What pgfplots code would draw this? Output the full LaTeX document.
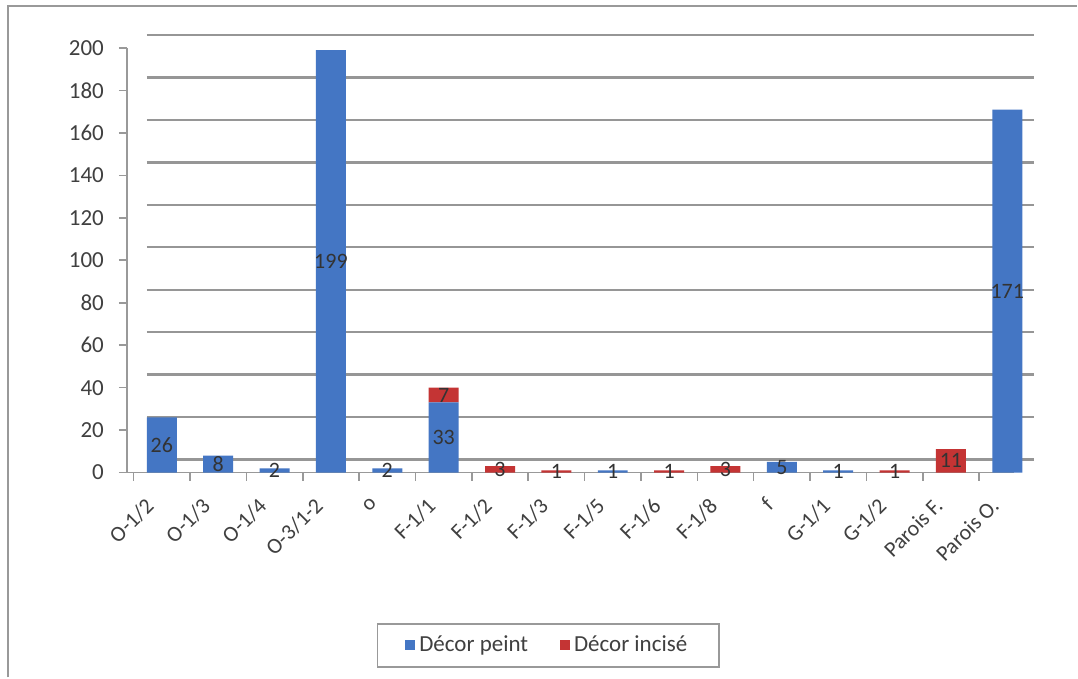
\documentclass[border=0pt]{standalone}
\usepackage{fontspec}
\setmainfont{Carlito}
\usepackage{pgfplots}
\pgfplotsset{compat=1.18}

\definecolor{peint}{RGB}{68,118,196}
\definecolor{incise}{RGB}{196,52,52}
\definecolor{gridgray}{RGB}{150,150,150}

\pgfplotsset{
  centred labels/.style={
    nodes near coords={\pgfmathfloatifflags{\pgfplotspointmeta}{0}{}{\pgfmathprintnumber{\pgfplotspointmeta}}},
    every node near coord/.style={anchor=center, font=\fontsize{11}{12}\selectfont, text=black!80},
  },
}

\pgfplotstableread{
x  peint incise
0  26    0
1  8     0
2  2     0
3  199   0
4  2     0
5  33    7
6  0     3
7  0     1
8  1     0
9  0     1
10 0     3
11 5     0
12 1     0
13 0     1
14 0     11
15 171   0
}\decor

\begin{document}
\begin{tikzpicture}
  % page: 1078 x 678 px at 0.5pt per px
  \path[fill=white] (0,0) rectangle (539pt,339pt);
  \draw[gray!80, line width=1pt] (4pt,0) -- (4pt,336pt) -- (539pt,336pt);
  \begin{axis}[
    at={(63.5pt,102.5pt)}, anchor=south west,
    scale only axis,
    width=444pt, height=212.5pt,
    ymin=0, ymax=200,
    xmin=-0.62, xmax=15.12,
    ytick={0,20,...,200},
    minor ytick={0,20,...,200},
    xtick={0,...,15},
    minor xtick={-0.5,0.5,...,15.5},
    major tick length=0pt, minor tick length=4pt,
    tick align=outside,
    xticklabels={O-1/2,O-1/3,O-1/4,O-3/1-2,o,F-1/1,F-1/2,F-1/3,F-1/5,F-1/6,F-1/8,f,G-1/1,G-1/2,Parois F.,Parois O.},
    x tick label style={xshift=-8.8pt, yshift=-7pt, rotate=45, anchor=north east, font=\fontsize{11}{12}\selectfont, text=black!75},
    y tick label style={font=\fontsize{11.5}{12}\selectfont, text=black!75, xshift=-8pt},
    /pgf/number format/assume math mode=true,
    axis x line*=bottom, axis y line*=left,
    axis line style={gray!80, line width=0.8pt},
    tick style={gray!80, line width=0.8pt},
    ymajorgrids,
    major grid style={gridgray, line width=1.2pt, xshift=10pt, yshift=6.5pt},
    ybar stacked, bar width=15pt,
    clip=false,
    legend columns=2,
    legend style={at={(0.475,-0.407)}, anchor=center, draw=gray!80, line width=0.8pt,
      font=\fontsize{11.5}{13}\selectfont, text=black!75,
      inner xsep=14pt, inner ysep=4pt,
      /tikz/every even column/.append style={column sep=14pt}},
    legend image code/.code={\fill[#1] (0pt,-2.5pt) rectangle (5pt,2.5pt);},
    centred labels,
  ]
    \addplot[draw=none, fill=peint] table[x=x, y=peint] {\decor};
    \addlegendentry{Décor peint}
    \addplot[draw=none, fill=incise] table[x=x, y=incise] {\decor};
    \addlegendentry{Décor incisé}
  \end{axis}
\end{tikzpicture}
\end{document}
